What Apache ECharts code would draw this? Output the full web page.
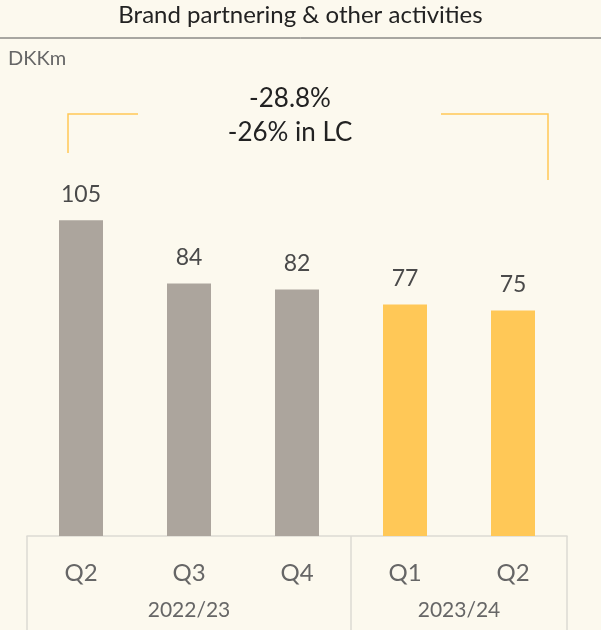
<!DOCTYPE html>
<html>
<head>
<meta charset="utf-8">
<style>
  html, body { margin: 0; padding: 0; background: #fcf9ee; }
  #chart { width: 601px; height: 630px; }
</style>
<script src="https://cdn.jsdelivr.net/npm/echarts@6/dist/echarts.min.js"></script>
</head>
<body>
<div id="chart"></div>
<script>
// data
const quarters = ['Q2', 'Q3', 'Q4', 'Q1', 'Q2']
const values = [105, 84, 82, 77, 75]
const yearLabels = ['2022/23', '2023/24']
const titleText = 'Brand partnering & other activities'
const unitText = 'DKKm'
const changeText = ['-28.8%', '-26% in LC']

const grey = '#aca59d'
const yellow = '#ffc857'
const font = 'Lato'

// year axis: 11 points on the 5 category slots (boundaryGap false)
// label at slot 3 (middle of first 3 quarters) and 8 (middle of last 2)
let yearSlots = []
for (let i = 0; i <= 10; i++) yearSlots.push('')
yearSlots[3] = yearLabels[0]
yearSlots[8] = yearLabels[1]
const dividers = [0, 6, 10]

let chart = echarts.init(document.getElementById('chart'))
let option = {
  backgroundColor: '#fcf9ee',
  textStyle: { fontFamily: font },
  grid: { left: 27, right: 34, top: 85, bottom: 94 },
  xAxis: [
    {
      type: 'category',
      data: quarters,
      axisLine: { show: true, lineStyle: { color: '#dcdad3', width: 1.5 } },
      axisTick: { show: false },
      axisLabel: { color: '#666', fontSize: 24, margin: 25, fontFamily: font }
    },
    {
      type: 'category',
      data: yearSlots,
      boundaryGap: false,
      position: 'bottom',
      axisLine: { show: false },
      axisTick: {
        show: true,
        length: 95,
        interval: function (idx) { return dividers.indexOf(idx) >= 0 },
        lineStyle: { color: '#dcdad3', width: 1.5 }
      },
      axisLabel: { color: '#666', fontSize: 21, margin: 64, interval: 0, fontFamily: font }
    }
  ],
  yAxis: {
    type: 'value',
    min: 0,
    max: 150,
    show: false
  },
  series: [
    {
      type: 'bar',
      barWidth: 44,
      data: values.map((v, i) => ({
        value: v,
        itemStyle: { color: i < 3 ? grey : yellow }
      })),
      label: {
        show: true,
        position: 'top',
        distance: 14,
        color: '#4a4a4a',
        fontSize: 23,
        fontFamily: font
      }
    }
  ],
  graphic: [
    {
      type: 'text',
      left: 'center',
      top: 3,
      style: { text: titleText, fontSize: 24, fill: '#222', fontFamily: font }
    },
    {
      type: 'line',
      shape: { x1: 0, y1: 38, x2: 601, y2: 38 },
      style: { stroke: '#555', lineWidth: 1 }
    },
    {
      type: 'text',
      left: 8,
      top: 49,
      style: { text: unitText, fontSize: 20, fill: '#666', fontFamily: font }
    },
    {
      type: 'text',
      x: 290,
      y: 116,
      style: {
        text: changeText.join('\n'),
        fontSize: 26,
        lineHeight: 34,
        fill: '#222',
        align: 'center',
        verticalAlign: 'middle',
        fontFamily: font
      }
    },
    {
      type: 'polyline',
      shape: { points: [[68, 153], [68, 114], [138, 114]] },
      style: { stroke: yellow, lineWidth: 1.5, fill: null }
    },
    {
      type: 'polyline',
      shape: { points: [[441, 114], [548, 114], [548, 180]] },
      style: { stroke: yellow, lineWidth: 1.5, fill: null }
    }
  ]
}
chart.setOption(option)
</script>
</body>
</html>
